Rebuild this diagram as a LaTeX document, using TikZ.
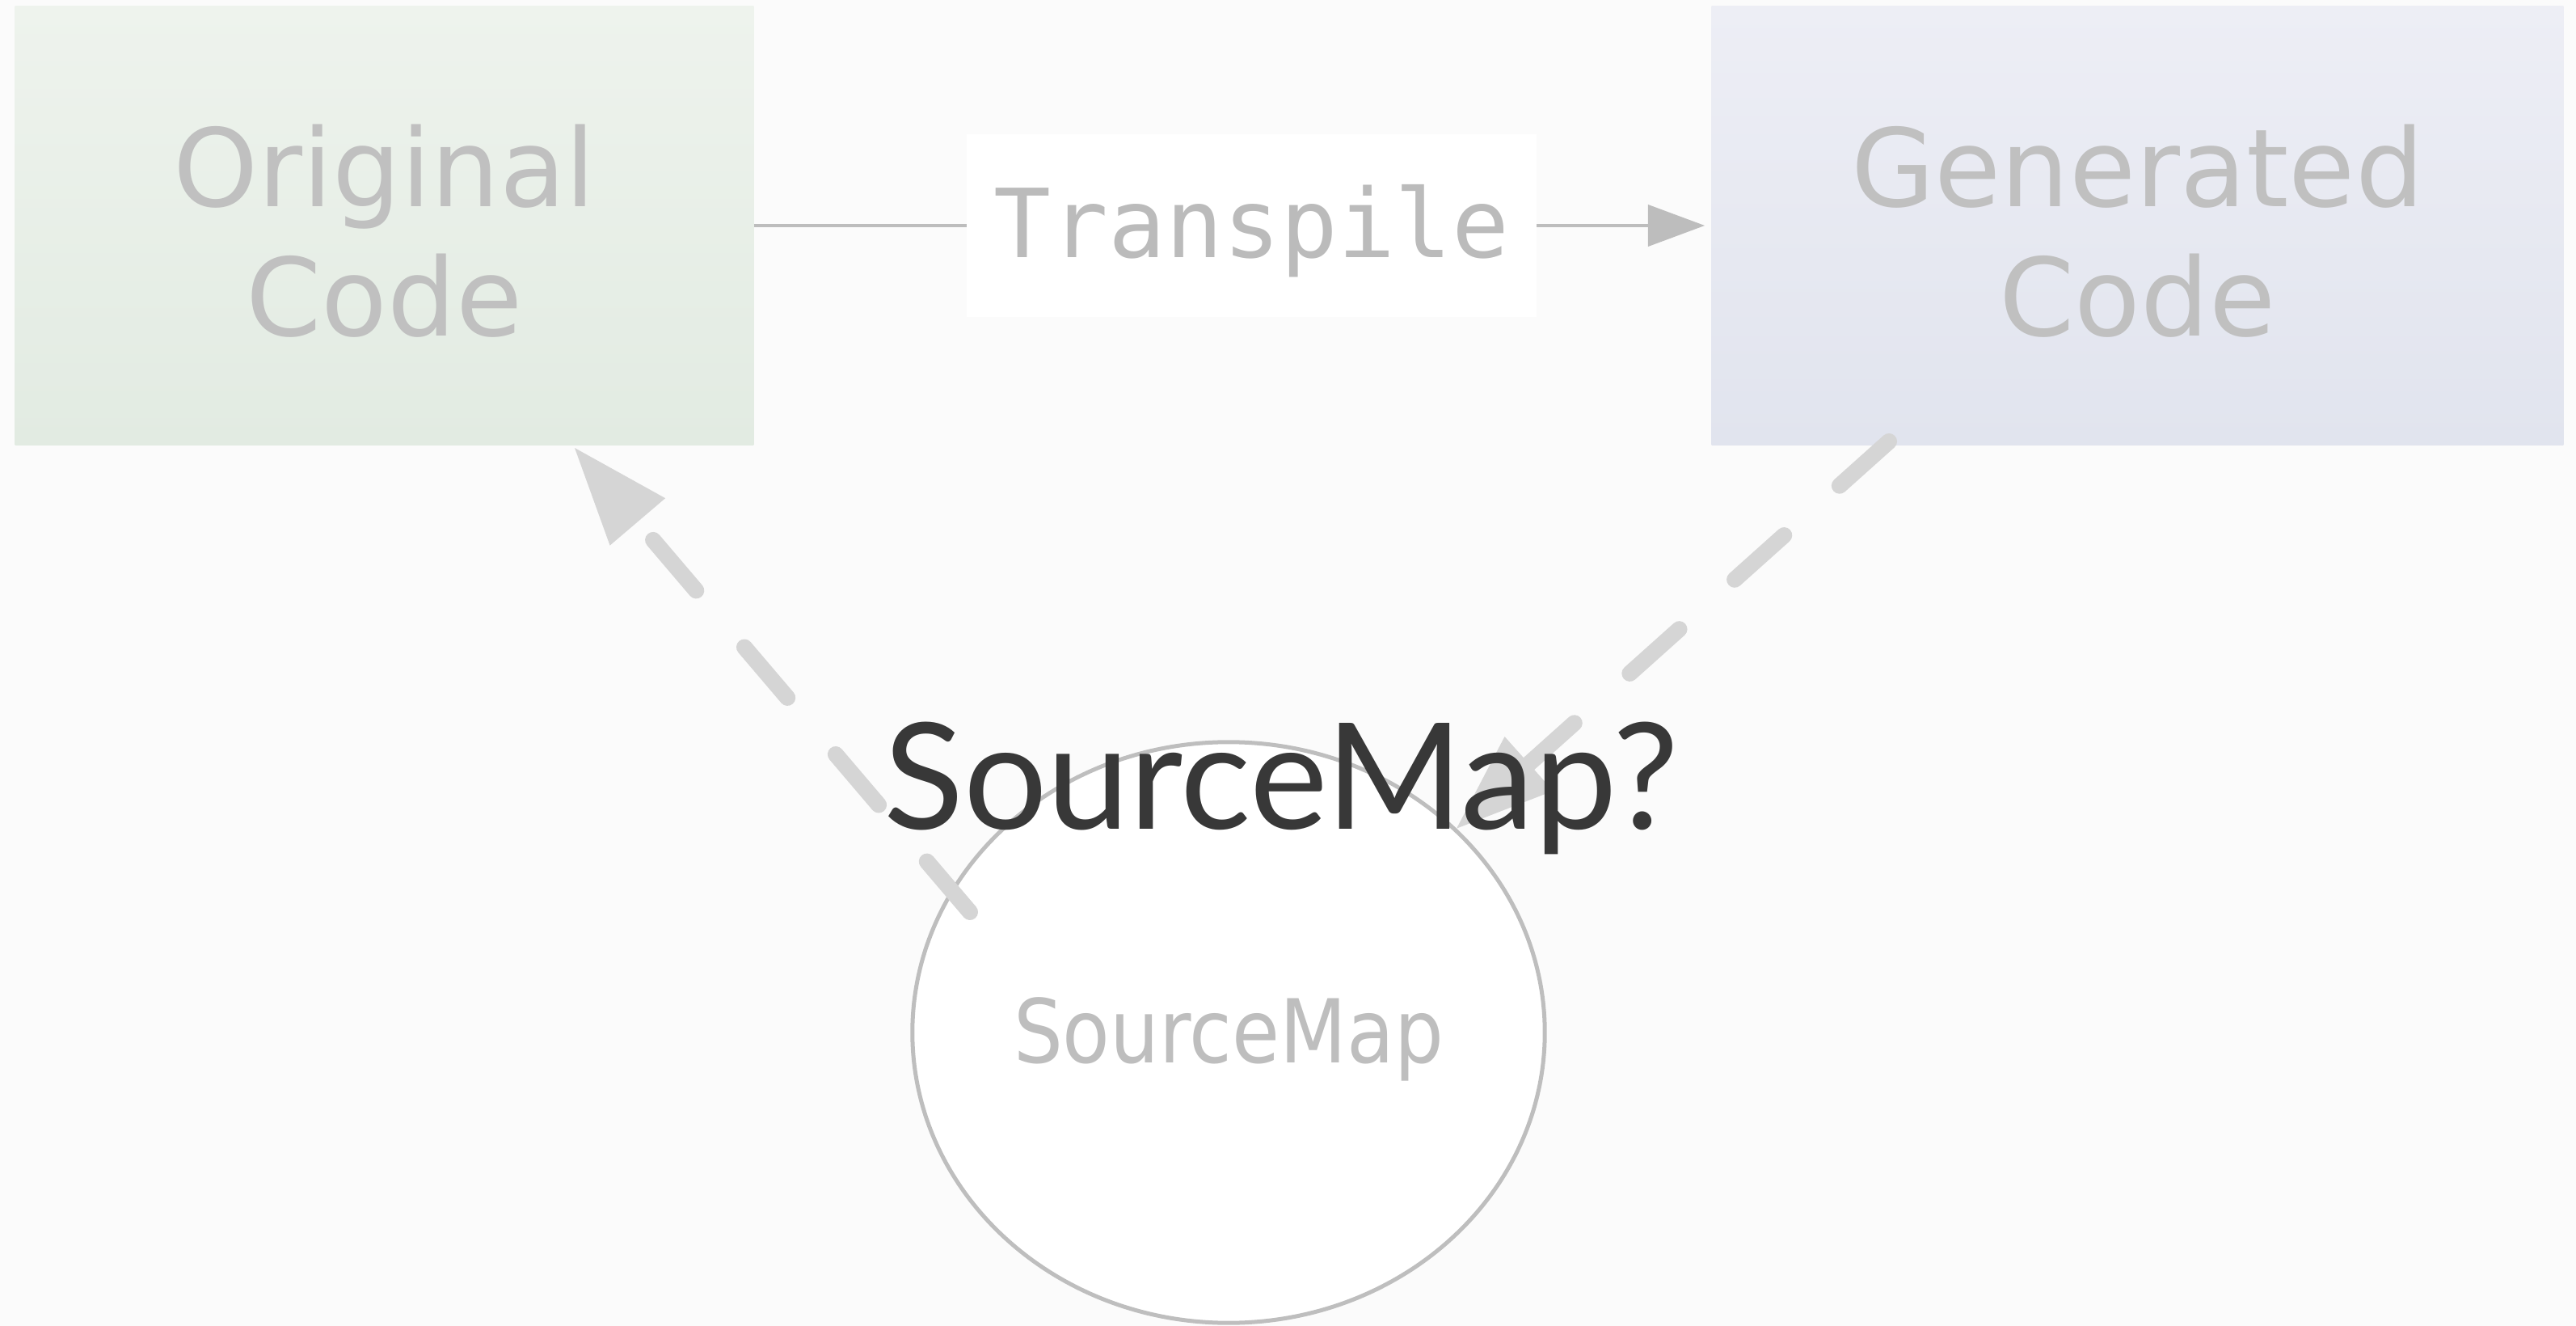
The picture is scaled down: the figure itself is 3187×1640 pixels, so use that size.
\documentclass[tikz,border=0pt]{standalone}
\usepackage{fontspec}
\setmainfont{DejaVu Sans}
\newfontfamily\latofont{Lato}
\newfontfamily\monofont{DejaVu Sans Mono}
\usetikzlibrary{arrows.meta,shapes.geometric}
\definecolor{bg}{HTML}{FBFBFB}
\definecolor{ogt}{HTML}{EEF3ED}
\definecolor{ogb}{HTML}{E2EBE2}
\definecolor{ggt}{HTML}{EDEEF5}
\definecolor{ggb}{HTML}{E1E4EE}
\definecolor{boxtext}{HTML}{C0C0C0}
\definecolor{trtext}{HTML}{BBBBBB}
\definecolor{linec}{HTML}{BDBDBD}
\definecolor{circc}{HTML}{BEBEBE}
\definecolor{smtext}{HTML}{BEBEBE}
\definecolor{dashc}{HTML}{D5D5D5}
\definecolor{bigtext}{HTML}{383838}
\begin{document}
\begin{tikzpicture}[x=0.01cm,y=-0.01cm,
  codebox/.style={minimum height=5.42cm, inner sep=0pt, align=center, text=boxtext,
    font=\fontsize{38}{45.5}\selectfont},
  tlabel/.style={fill=white, minimum width=7.05cm, minimum height=2.26cm, inner sep=0pt,
    text=trtext, font=\monofont\fontsize{33.5}{40}\selectfont, text height=1.1cm, text depth=0.32cm},
  thinarr/.style={draw=linec, line width=0.04cm, shorten >=0.08cm,
    -{Triangle[length=0.7cm,width=0.52cm,line width=0pt]}},
  smnode/.style={ellipse, draw=circc, line width=0.05cm, fill=white, minimum width=7.82cm,
    minimum height=7.18cm, inner sep=0pt, text=smtext, font=\fontsize{31}{36}\selectfont,
    text height=0.9cm, text depth=0.16cm},
  dasharr/.style={draw=dashc, line width=0.2cm, line cap=round, dash pattern=on 0.82cm off 0.92cm,
    -{Triangle[length=1.2cm,width=0.9cm,line width=0pt]}},
  bigq/.style={font=\latofont\fontsize{52}{60}\selectfont, text=bigtext, anchor=base, inner sep=0pt}
]
\fill[bg] (0,0) rectangle (3187,1640);
\useasboundingbox (0,0) rectangle (3187,1640);

\node[codebox, minimum width=9.13cm, top color=ogt, bottom color=ogb] (orig) at (475.5,279) {\rule{0pt}{1.14cm}Original\\Code};
\node[codebox, minimum width=10.53cm, top color=ggt, bottom color=ggb] (gen) at (2644.5,279) {\rule{0pt}{1.14cm}Generated\\Code};

\draw[thinarr] (orig) -- node[tlabel, pos=0.52] (tr) {Transpile} (gen);

\node[smnode] (sm) at (1520,1277) {\scalebox{0.88}[1]{SourceMap}};

\coordinate (g1) at (2337,546);
\draw[dasharr] (g1) -- (sm);

\coordinate (s1) at (1200,1128);
\coordinate (o1) at (711,554);
\draw[dasharr] (s1) -- (o1);

\node[bigq] (q) at (1585,1025) {SourceMap?};
\end{tikzpicture}
\end{document}
